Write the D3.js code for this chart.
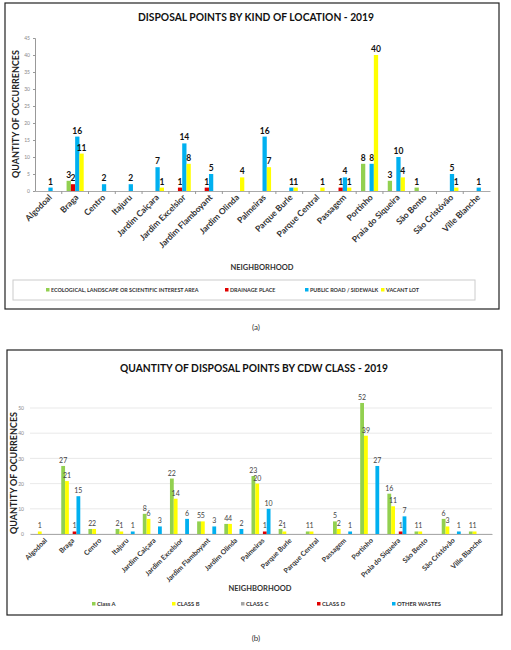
<!DOCTYPE html>
<html>
<head>
<meta charset="utf-8">
<script src="https://cdn.jsdelivr.net/npm/d3@7"></script>
<style>
  body { margin: 0; background: #fff; }
  svg { display: block; font-family: Lato, "Open Sans", sans-serif; }
</style>
</head>
<body>
<svg id="chart" width="511" height="650"></svg>
<script>
// Neighborhoods (same for both charts)
const neighborhoods = ['Algodoal', 'Braga', 'Centro', 'Itajuru', 'Jardim Caiçara', 'Jardim Excelsior',
  'Jardim Flamboyant', 'Jardim Olinda', 'Palmeiras', 'Parque Burle', 'Parque Central', 'Passagem',
  'Portinho', 'Praia do Siqueira', 'São Bento', 'São Cristóvão', 'Ville Blanche'];

// (a) kind of location
const locationSeries = ['ECOLOGICAL, LANDSCAPE OR SCIENTIFIC INTEREST AREA', 'DRAINAGE PLACE', 'PUBLIC ROAD / SIDEWALK', 'VACANT LOT'];
const ecological = [0, 3, 0, 0, 0, 0, 0, 0, 0, 0, 0, 0, 8, 3, 1, 0, 0];
const drainage   = [0, 2, 0, 0, 0, 1, 1, 0, 0, 0, 0, 1, 0, 0, 0, 0, 0];
const publicRoad = [1, 16, 2, 2, 7, 14, 5, 0, 16, 1, 0, 4, 8, 10, 0, 5, 1];
const vacantLot  = [0, 11, 0, 0, 1, 8, 0, 4, 7, 1, 1, 1, 40, 4, 0, 1, 0];
const yTicksA = [0, 5, 10, 15, 20, 25, 30, 35, 40, 45];

// (b) CDW class
const classSeries = ['Class A', 'CLASS B', 'CLASS C', 'CLASS D', 'OTHER WASTES'];
const classA = [0, 27, 2, 2, 8, 22, 5, 4, 23, 2, 1, 5, 52, 16, 1, 6, 1];
const classB = [1, 21, 2, 1, 6, 14, 5, 4, 20, 1, 1, 2, 39, 11, 1, 3, 1];
const classC = [0, 0, 0, 0, 0, 0, 0, 0, 0, 0, 0, 0, 0, 0, 0, 0, 0];
const classD = [0, 1, 0, 0, 0, 0, 0, 0, 1, 0, 0, 0, 0, 1, 0, 0, 0];
const otherWastes = [0, 15, 0, 1, 3, 6, 3, 2, 10, 0, 0, 1, 27, 7, 0, 1, 0];
const yTicksB = [0, 10, 20, 30, 40, 50];

const green = '#92D050', red = '#E00000', blue = '#00B0F0', yellow = '#FFFF00', gray = '#A5A5A5';

const svg = d3.select('#chart');

function drawChart(cfg) {
  const g = svg.append('g');

  // frame
  g.append('rect')
    .attr('x', cfg.box[0]).attr('y', cfg.box[1])
    .attr('width', cfg.box[2] - cfg.box[0]).attr('height', cfg.box[3] - cfg.box[1])
    .attr('fill', 'none').attr('stroke', '#222').attr('stroke-width', 1.2);

  // title
  g.append('text')
    .attr('x', cfg.titleX).attr('y', cfg.titleY)
    .attr('text-anchor', 'middle')
    .attr('font-weight', 'bold').attr('font-size', 12)
    .attr('textLength', cfg.titleLen).attr('lengthAdjust', 'spacingAndGlyphs')
    .attr('fill', '#111')
    .text(cfg.title);

  const x0 = d3.scaleBand().domain(neighborhoods).range(cfg.xRange).paddingInner(cfg.pad).paddingOuter(cfg.pad / 2);
  const x1 = d3.scaleBand().domain(d3.range(cfg.series.length)).range([0, x0.bandwidth()]);
  const y = d3.scaleLinear().domain(cfg.yDomain).range(cfg.yRange);

  // gridlines
  if (cfg.grid) {
    g.append('g').selectAll('line').data(cfg.yTicks).join('line')
      .attr('x1', cfg.xRange[0]).attr('x2', cfg.xRange[1])
      .attr('y1', d => y(d)).attr('y2', d => y(d))
      .attr('stroke', '#e3e3e3').attr('stroke-width', 0.8);
  }

  // y axis
  const yAxis = g.append('g')
    .attr('transform', `translate(${cfg.xRange[0]},0)`)
    .call(d3.axisLeft(y).tickValues(cfg.yTicks).tickSize(cfg.grid ? 0 : 2).tickPadding(cfg.grid ? 6 : 3));
  yAxis.selectAll('text').attr('font-size', 5).attr('fill', '#888').attr('font-family', 'Lato, sans-serif');
  yAxis.selectAll('line').attr('stroke', '#999');
  yAxis.select('.domain').attr('stroke', cfg.grid ? 'none' : '#999');

  // y label
  g.append('text')
    .attr('transform', `translate(${cfg.yLabelX},${cfg.yLabelY}) rotate(-90)`)
    .attr('text-anchor', 'middle')
    .attr('font-weight', 'bold').attr('font-size', 9)
    .attr('fill', '#222')
    .text(cfg.yLabel);

  // bars
  cfg.values.forEach((vals, si) => {
    const rows = vals.map((v, i) => ({ n: neighborhoods[i], v }));
    g.append('g').selectAll('rect').data(rows.filter(d => d.v > 0)).join('rect')
      .attr('x', d => x0(d.n) + x1(si))
      .attr('width', x1.bandwidth())
      .attr('y', d => y(d.v))
      .attr('height', d => y(0) - y(d.v))
      .attr('fill', cfg.colors[si]);

    g.append('g').selectAll('text').data(rows.filter(d => d.v > 0)).join('text')
      .attr('x', d => x0(d.n) + x1(si) + x1.bandwidth() / 2)
      .attr('y', d => y(d.v) - 3)
      .attr('text-anchor', 'middle')
      .attr('font-size', cfg.labelSize)
      .attr('font-weight', cfg.labelWeight)
      .attr('fill', cfg.labelColor)
      .text(d => d.v);
  });

  // x axis
  const xAxis = g.append('g')
    .attr('transform', `translate(0,${y(0)})`)
    .call(d3.axisBottom(x0).tickSize(0).tickFormat(''));
  xAxis.select('.domain').attr('stroke', '#aaa');
  // tick marks between categories
  if (!cfg.grid) {
    g.append('g').selectAll('line').data(neighborhoods.slice(1)).join('line')
      .attr('x1', d => x0(d) - x0.step() * x0.paddingInner() / 2)
      .attr('x2', d => x0(d) - x0.step() * x0.paddingInner() / 2)
      .attr('y1', y(0)).attr('y2', y(0) + 3)
      .attr('stroke', '#999');
  }

  // category labels, rotated
  g.append('g').selectAll('text').data(neighborhoods).join('text')
    .attr('transform', d => `translate(${x0(d) + x0.bandwidth() / 2 + 4},${y(0) + 7}) rotate(-45)`)
    .attr('text-anchor', 'end')
    .attr('font-size', cfg.catSize)
    .attr('font-weight', 'bold')
    .attr('fill', '#333')
    .text(d => d);

  // x label
  g.append('text')
    .attr('x', cfg.xLabelX).attr('y', cfg.xLabelY)
    .attr('text-anchor', 'middle')
    .attr('font-weight', 'bold').attr('font-size', 7.5)
    .attr('fill', '#333')
    .text('NEIGHBORHOOD');

  // legend
  if (cfg.legendBox) {
    g.append('rect')
      .attr('x', cfg.legendBox[0]).attr('y', cfg.legendBox[1])
      .attr('width', cfg.legendBox[2] - cfg.legendBox[0]).attr('height', cfg.legendBox[3] - cfg.legendBox[1])
      .attr('fill', 'none').attr('stroke', '#ccc');
  }
  const leg = g.append('g').selectAll('g').data(cfg.series).join('g')
    .attr('transform', (d, i) => `translate(${cfg.legendX[i]},${cfg.legendY})`);
  leg.append('rect').attr('x', 0).attr('y', -3).attr('width', 3.5).attr('height', 3.5)
    .attr('fill', (d, i) => cfg.colors[i]);
  leg.append('text').attr('x', 5).attr('y', 1)
    .attr('font-size', cfg.legendSize).attr('font-weight', 'bold').attr('fill', '#333')
    .text(d => d);

  // caption
  svg.append('text')
    .attr('x', 256).attr('y', cfg.captionY)
    .attr('text-anchor', 'middle').attr('font-size', 8).attr('fill', '#333')
    .text(cfg.caption);
}

drawChart({
  box: [5, 3, 499, 309],
  title: 'DISPOSAL POINTS BY KIND OF LOCATION - 2019', titleX: 256, titleY: 21, titleLen: 236,
  series: locationSeries,
  values: [ecological, drainage, publicRoad, vacantLot],
  colors: [green, red, blue, yellow],
  xRange: [35, 490], pad: 0.36,
  yDomain: [0, 45], yRange: [191, 38], yTicks: yTicksA, grid: false,
  yLabel: 'QUANTITY OF OCCURRENCES', yLabelX: 19, yLabelY: 114,
  labelSize: 8.5, labelWeight: 'bold', labelColor: '#111',
  catSize: 8.5,
  xLabelX: 262, xLabelY: 270,
  legendBox: [13, 280, 475, 300], legendY: 291, legendX: [46, 225, 305, 381], legendSize: 5.4,
  caption: '(a)', captionY: 330
});

drawChart({
  box: [7, 350, 502, 615],
  title: 'QUANTITY OF DISPOSAL POINTS BY CDW CLASS - 2019', titleX: 254, titleY: 372, titleLen: 268,
  series: classSeries,
  values: [classA, classB, classC, classD, otherWastes],
  colors: [green, yellow, gray, red, blue],
  xRange: [30, 492], pad: 0.3,
  yDomain: [0, 50], yRange: [534, 408], yTicks: yTicksB, grid: true,
  yLabel: 'QUANTITY OF OCURRENCES', yLabelX: 17, yLabelY: 473,
  labelSize: 7, labelWeight: 'normal', labelColor: '#444',
  catSize: 7,
  xLabelX: 260, xLabelY: 591,
  legendBox: null, legendY: 605, legendX: [92, 172, 241, 317, 392], legendSize: 5.8,
  caption: '(b)', captionY: 641
});
</script>
</body>
</html>
